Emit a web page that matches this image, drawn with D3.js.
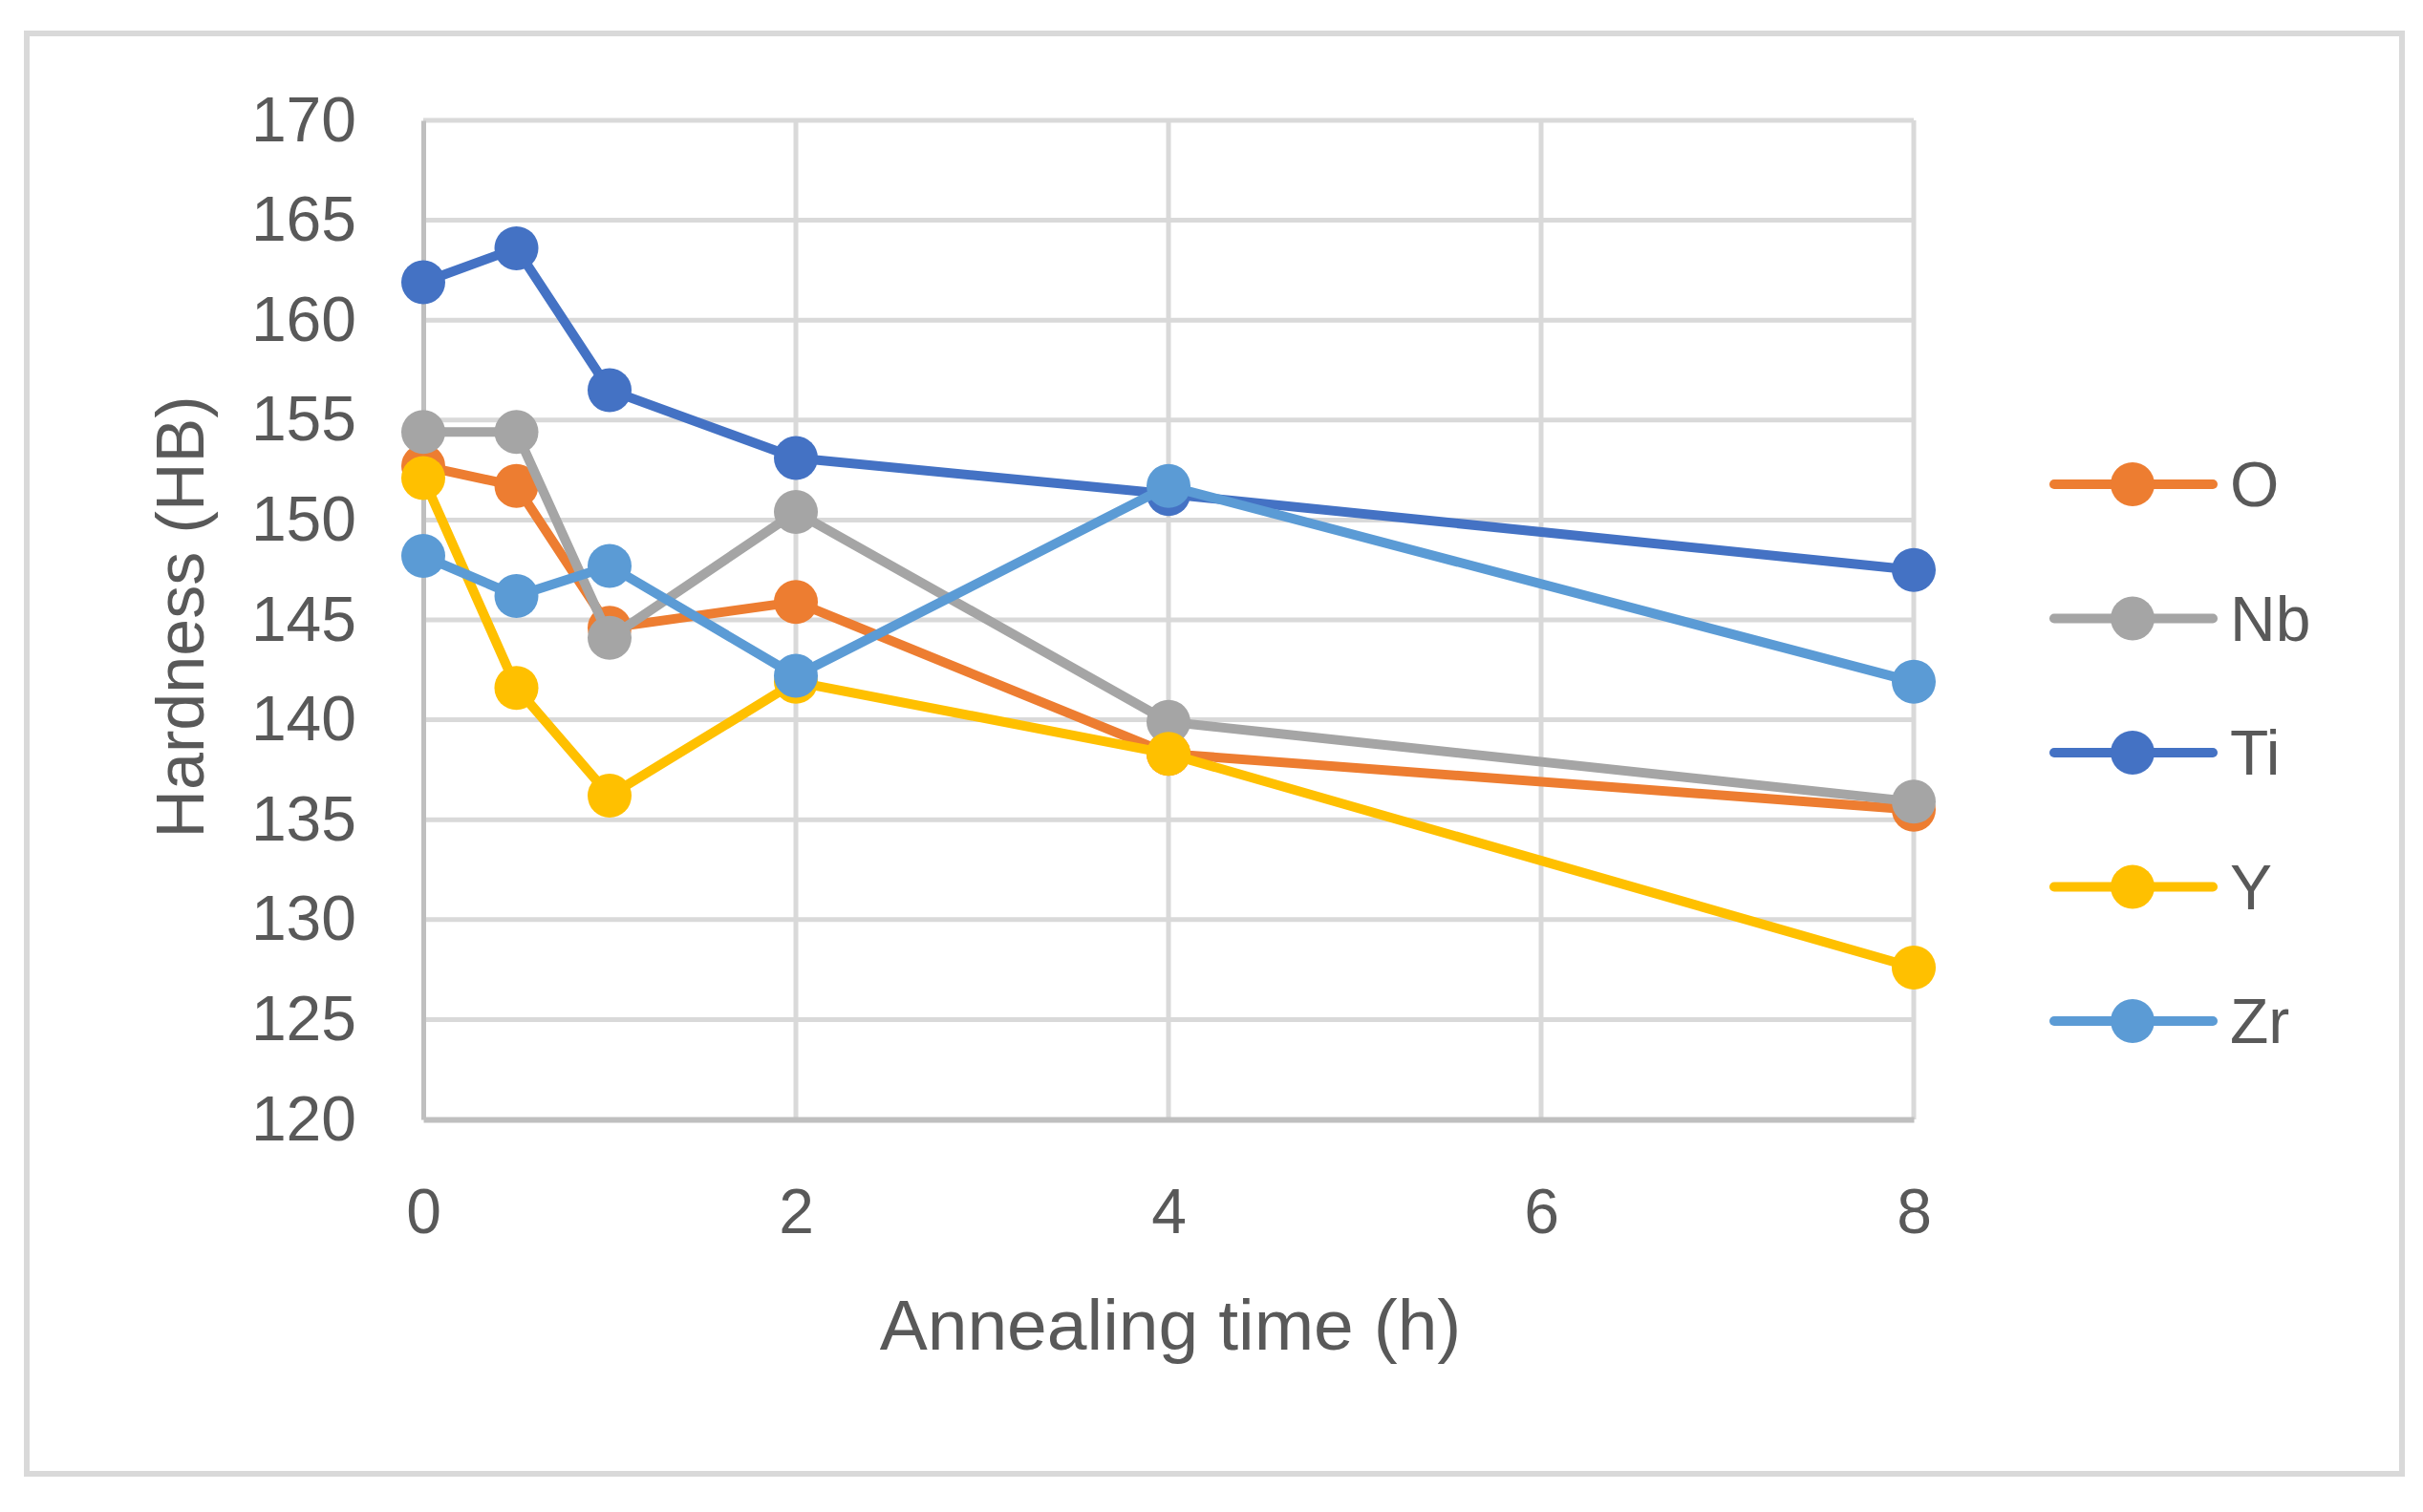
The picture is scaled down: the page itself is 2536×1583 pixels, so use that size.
<!DOCTYPE html>
<html>
<head>
<meta charset="utf-8">
<script src="https://cdn.jsdelivr.net/npm/d3@7"></script>
<style>
  html, body { margin: 0; padding: 0; background: #ffffff; }
  svg { display: block; }
  text { font-family: "Liberation Sans", Arial, sans-serif; fill: #595959; }
</style>
</head>
<body>
<svg id="chart" width="2536" height="1583"></svg>
<script>
// ---- data ----
const times = [0, 0.5, 1, 2, 4, 8];
const seriesNames = ["O", "Nb", "Ti", "Y", "Zr"];
const valuesO  = [152.7, 151.7, 144.6, 145.9, 138.3, 135.5];
const valuesNb = [154.4, 154.4, 144.1, 150.4, 139.9, 135.9];
const valuesTi = [161.9, 163.6, 156.5, 153.1, 151.3, 147.5];
const valuesY  = [152.1, 141.6, 136.2, 141.9, 138.3, 127.6];
const valuesZr = [148.2, 146.2, 147.7, 142.2, 151.7, 141.9];
const seriesColors = ["#ED7D31", "#A5A5A5", "#4472C4", "#FFC000", "#5B9BD5"];
const xTicks = [0, 2, 4, 6, 8];
const yTicks = [120, 125, 130, 135, 140, 145, 150, 155, 160, 165, 170];
const xTitle = "Annealing time (h)";
const yTitle = "Hardness (HB)";

const allValues = [valuesO, valuesNb, valuesTi, valuesY, valuesZr];
const series = seriesNames.map((n, i) => ({
  name: n, color: seriesColors[i],
  points: times.map((t, j) => ({ x: t, y: allValues[i][j] }))
}));

// ---- layout ----
const svg = d3.select("#chart");
const plot = { left: 443, right: 2003, top: 126, bottom: 1172 };

svg.append("rect").attr("x", 0).attr("y", 0).attr("width", 2536).attr("height", 1583).attr("fill", "#fff");
// outer chart border
svg.append("rect").attr("x", 28).attr("y", 35).attr("width", 2486).attr("height", 1508)
  .attr("fill", "#fff").attr("stroke", "#d9d9d9").attr("stroke-width", 6);

const x = d3.scaleLinear().domain([0, 8]).range([plot.left, plot.right]);
const y = d3.scaleLinear().domain([120, 170]).range([plot.bottom, plot.top]);

// gridlines
const grid = svg.append("g");
grid.selectAll("line.h").data(yTicks.filter(v => v !== 120)).join("line")
  .attr("x1", plot.left).attr("x2", plot.right)
  .attr("y1", d => y(d)).attr("y2", d => y(d))
  .attr("stroke", "#d9d9d9").attr("stroke-width", 5);
grid.selectAll("line.v").data(xTicks.filter(v => v !== 0)).join("line")
  .attr("x1", d => x(d)).attr("x2", d => x(d))
  .attr("y1", plot.top).attr("y2", plot.bottom)
  .attr("stroke", "#d9d9d9").attr("stroke-width", 5);

// axes
const yAxis = d3.axisLeft(y).tickValues(yTicks).tickSize(0).tickPadding(70).tickFormat(d3.format("d"));
const gy = svg.append("g").attr("transform", `translate(${plot.left},0)`).call(yAxis);
gy.select(".domain").attr("stroke", "#bfbfbf").attr("stroke-width", 5);
gy.selectAll("text").attr("font-size", 66).attr("fill", "#595959")
  .attr("font-family", "'Liberation Sans', Arial, sans-serif");

const xAxis = d3.axisBottom(x).tickValues(xTicks).tickSize(0).tickPadding(72).tickFormat(d3.format("d"));
const gx = svg.append("g").attr("transform", `translate(0,${plot.bottom})`).call(xAxis);
gx.select(".domain").attr("stroke", "#bfbfbf").attr("stroke-width", 6);
gx.selectAll("text").attr("font-size", 66).attr("fill", "#595959")
  .attr("font-family", "'Liberation Sans', Arial, sans-serif");

// axis titles
svg.append("text").attr("x", (plot.left + plot.right) / 2 + 2).attr("y", 1413)
  .attr("text-anchor", "middle").attr("font-size", 75).text(xTitle);
svg.append("text").attr("transform", "translate(213,646) rotate(-90)")
  .attr("text-anchor", "middle").attr("font-size", 70).text(yTitle);

// series
const line = d3.line().x(d => x(d.x)).y(d => y(d.y));
const gs = svg.append("g");
series.forEach(s => {
  const g = gs.append("g");
  g.append("path").datum(s.points).attr("d", line)
    .attr("fill", "none").attr("stroke", s.color).attr("stroke-width", 10)
    .attr("stroke-linejoin", "round").attr("stroke-linecap", "round");
  g.selectAll("circle").data(s.points).join("circle")
    .attr("cx", d => x(d.x)).attr("cy", d => y(d.y)).attr("r", 23)
    .attr("fill", s.color);
});

// legend
const legend = svg.append("g");
const legY = d3.scalePoint().domain(seriesNames).range([507, 1069]);
series.forEach(s => {
  const cy = legY(s.name);
  legend.append("line").attr("x1", 2150).attr("x2", 2316).attr("y1", cy).attr("y2", cy)
    .attr("stroke", s.color).attr("stroke-width", 10).attr("stroke-linecap", "round");
  legend.append("circle").attr("cx", 2232).attr("cy", cy).attr("r", 23).attr("fill", s.color);
  legend.append("text").attr("x", 2334).attr("y", cy).attr("dy", "0.35em")
    .attr("font-size", 66).text(s.name);
});
</script>
</body>
</html>
